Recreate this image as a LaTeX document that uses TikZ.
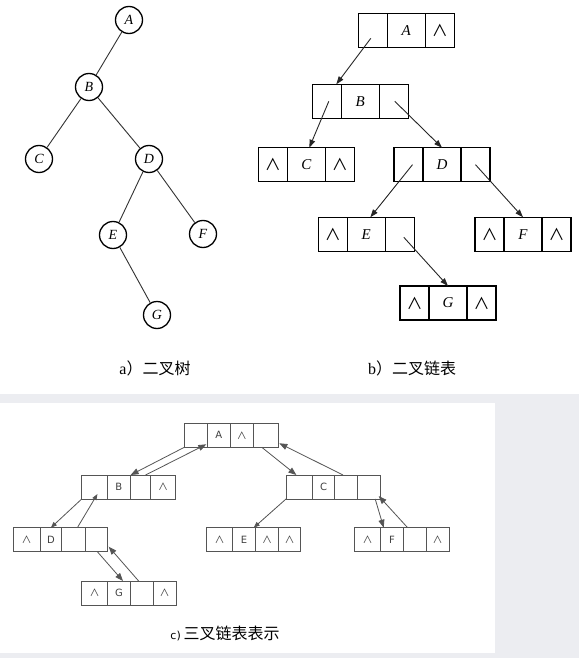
\documentclass[tikz,border=0pt]{standalone}
\usepackage{fontspec}
\setmainfont{Liberation Serif}
\newfontfamily\cjk{Noto Sans CJK SC}
\newfontfamily\csans{DejaVu Sans}
\usetikzlibrary{arrows.meta,calc}
\definecolor{bggray}{HTML}{ECEDF1}
\definecolor{lineg}{HTML}{555555}
\newcommand\bwdg{{\cjk\fontsize{16}{16}\selectfont ∧}}
\newcommand\cwdg{{\cjk\fontsize{10}{10}\selectfont ∧}}
\begin{document}
\begin{tikzpicture}[x=1pt,y=-1pt,
  tnode/.style={circle,draw=black,line width=1.3pt,minimum size=27pt,inner sep=0pt,font=\fontsize{14}{14}\selectfont\itshape},
  tedge/.style={draw=black!80,line width=0.9pt},
  bcell/.style={draw=black,line width=1.4pt,minimum height=34pt,inner sep=0pt,outer sep=0pt,anchor=north west,font=\fontsize{15}{15}\selectfont\itshape},
  bside/.style={bcell,minimum width=29pt},
  bmid/.style={bcell,minimum width=38pt},
  barr/.style={draw=black!85,line width=0.9pt,-{Triangle[length=8pt,width=5.5pt]}},
  ccell/.style={draw=lineg,line width=0.9pt,minimum height=24pt,minimum width=23pt,inner sep=0pt,outer sep=0pt,anchor=north west,font=\csans\fontsize{10}{10}\selectfont,text=black!75},
  cfirst/.style={ccell,minimum width=25.5pt},
  carr/.style={draw=lineg,line width=0.8pt,-{Triangle[length=8pt,width=6pt]}},
  csmall/.style={draw=lineg,line width=0.8pt,-{Triangle[length=6pt,width=4.5pt]}},
  captxt/.style={font=\fontsize{16}{16}\selectfont,inner sep=0pt}
]
% backgrounds
\fill[bggray] (0,0) rectangle (579,658);
\fill[white] (0,0) rectangle (579,394);
\fill[white] (0,403) rectangle (495,653);
\useasboundingbox (0,0) rectangle (579,658);

% ---------- a) binary tree ----------
\node[tnode] (A) at (129,20) {A};
\node[tnode] (B) at (89,87) {B};
\node[tnode] (C) at (39,159) {C};
\node[tnode] (D) at (149,159) {D};
\node[tnode] (E) at (113,235) {E};
\node[tnode] (F) at (203,234) {F};
\node[tnode] (G) at (157,315) {G};
\draw[tedge] (A) -- (B);
\draw[tedge] (B) -- (C);
\draw[tedge] (B) -- (D);
\draw[tedge] (D) -- (E);
\draw[tedge] (D) -- (F);
\draw[tedge] (E) -- (G);
\node[captxt] (capa) at (155,368) {a{\cjk ）二叉树}};

% ---------- b) binary linked list ----------
\node[bside] (bA1) at (358.3,13.3) {};
\node[bmid]  (bA2) at (bA1.north east) {A};
\node[bside] (bA3) at (bA2.north east) {\bwdg};

\node[bside] (bB1) at (312.3,84.3) {};
\node[bmid]  (bB2) at (bB1.north east) {B};
\node[bside] (bB3) at (bB2.north east) {};

\node[bside] (bC1) at (258.3,147.7) {\bwdg};
\node[bmid]  (bC2) at (bC1.north east) {C};
\node[bside] (bC3) at (bC2.north east) {\bwdg};

\node[bside] (bD1) at (394,147.7) {};
\node[bmid]  (bD2) at (bD1.north east) {D};
\node[bside] (bD3) at (bD2.north east) {};

\node[bside] (bE1) at (318.3,217.3) {\bwdg};
\node[bmid]  (bE2) at (bE1.north east) {E};
\node[bside] (bE3) at (bE2.north east) {};

\node[bside] (bF1) at (475,217.3) {\bwdg};
\node[bmid]  (bF2) at (bF1.north east) {F};
\node[bside] (bF3) at (bF2.north east) {\bwdg};

\node[bside] (bG1) at (400,286) {\bwdg};
\node[bmid]  (bG2) at (bG1.north east) {G};
\node[bside] (bG3) at (bG2.north east) {\bwdg};

\draw[barr] ($(bA1.center)+(-2,8)$) -- ($(bB1.north east)+(-5,0)$);
\draw[barr] ($(bB1.center)+(2,0)$) -- ($(bC2.north)+(3,0)$);
\draw[barr] ($(bB3.center)+(1,0)$) -- (bD2.north);
\draw[barr] ($(bD1.center)+(4,0)$) -- ($(bE2.north)+(4,0)$);
\draw[barr] (bD3.center) -- (bF2.north);
\draw[barr] ($(bE3.center)+(4,3)$) -- (bG2.north);
\node[captxt] (capb) at (412,368) {b{\cjk ）二叉链表}};

% ---------- c) trident linked list ----------
\node[ccell,minimum width=23pt] (cA1) at (184.3,423.3) {};
\node[ccell] (cA2) at (cA1.north east) {A};
\node[ccell] (cA3) at (cA2.north east) {\cwdg};
\node[ccell,minimum width=25pt] (cA4) at (cA3.north east) {};

\node[cfirst] (cB1) at (81.7,475) {};
\node[ccell,minimum width=23.4pt] (cB2) at (cB1.north east) {B};
\node[ccell,minimum width=20pt] (cB3) at (cB2.north east) {};
\node[ccell,minimum width=25pt] (cB4) at (cB3.north east) {\cwdg};

\node[cfirst,minimum width=26.7pt] (cC1) at (286,475) {};
\node[ccell,minimum width=21.6pt] (cC2) at (cC1.north east) {C};
\node[ccell,minimum width=23.4pt] (cC3) at (cC2.north east) {};
\node[ccell] (cC4) at (cC3.north east) {};

\node[cfirst,minimum width=26.7pt] (cD1) at (13.3,527.7) {\cwdg};
\node[ccell,minimum width=21.7pt] (cD2) at (cD1.north east) {D};
\node[ccell,minimum width=23.3pt] (cD3) at (cD2.north east) {};
\node[ccell,minimum width=22.7pt] (cD4) at (cD3.north east) {};

\node[cfirst,minimum width=25.6pt] (cE1) at (206.7,527.7) {\cwdg};
\node[ccell,minimum width=23.4pt] (cE2) at (cE1.north east) {E};
\node[ccell,minimum width=22.6pt] (cE3) at (cE2.north east) {\cwdg};
\node[ccell,minimum width=22.4pt] (cE4) at (cE3.north east) {\cwdg};

\node[cfirst,minimum width=26.4pt] (cF1) at (354.3,527.7) {\cwdg};
\node[ccell,minimum width=22.6pt] (cF2) at (cF1.north east) {F};
\node[ccell,minimum width=22.7pt] (cF3) at (cF2.north east) {};
\node[ccell] (cF4) at (cF3.north east) {\cwdg};

\node[cfirst,minimum width=26pt] (cG1) at (81.7,581) {\cwdg};
\node[ccell,minimum width=22.6pt] (cG2) at (cG1.north east) {G};
\node[ccell,minimum width=22.7pt] (cG3) at (cG2.north east) {};
\node[ccell,minimum width=23.4pt] (cG4) at (cG3.north east) {\cwdg};

\draw[carr] (cA1.south west) -- (cB3.north west);
\draw[carr] ($(cB3.north east)+(-5,0)$) -- ($(cA1.south east)+(-1,-3)$);
\draw[carr] ($(cA4.south)+(-4,0)$) -- ($(cC1.north)+(-3,0)$);
\draw[carr] ($(cC3.north)+(-3,0)$) -- ($(cA4.south east)+(1,-4)$);
\draw[csmall] (cB1.south west) -- (cD2.north);
\draw[csmall] ($(cD3.north)+(4,0)$) -- ($(cB1.south)+(3,-5)$);
\draw[carr] ($(cD4.south)+(1,0)$) -- ($(cG2.north)+(4,0)$);
\draw[carr] ($(cG3.north)+(-3,0)$) -- ($(cD4.south east)+(1,-5)$);
\draw[csmall] (cC1.south west) -- ($(cE2.north east)+(-2,0)$);
\draw[carr] ($(cC4.south)+(6,0)$) -- ($(cF2.north west)+(3,0)$);
\draw[carr] ($(cF3.north)+(-7,0)$) -- ($(cC4.south east)+(-2,-3)$);
\node[captxt] (capc) at (225,633) {{\csans\fontsize{11}{11}\selectfont c)}\,{\cjk 三叉链表表示}};
\end{tikzpicture}
\end{document}
